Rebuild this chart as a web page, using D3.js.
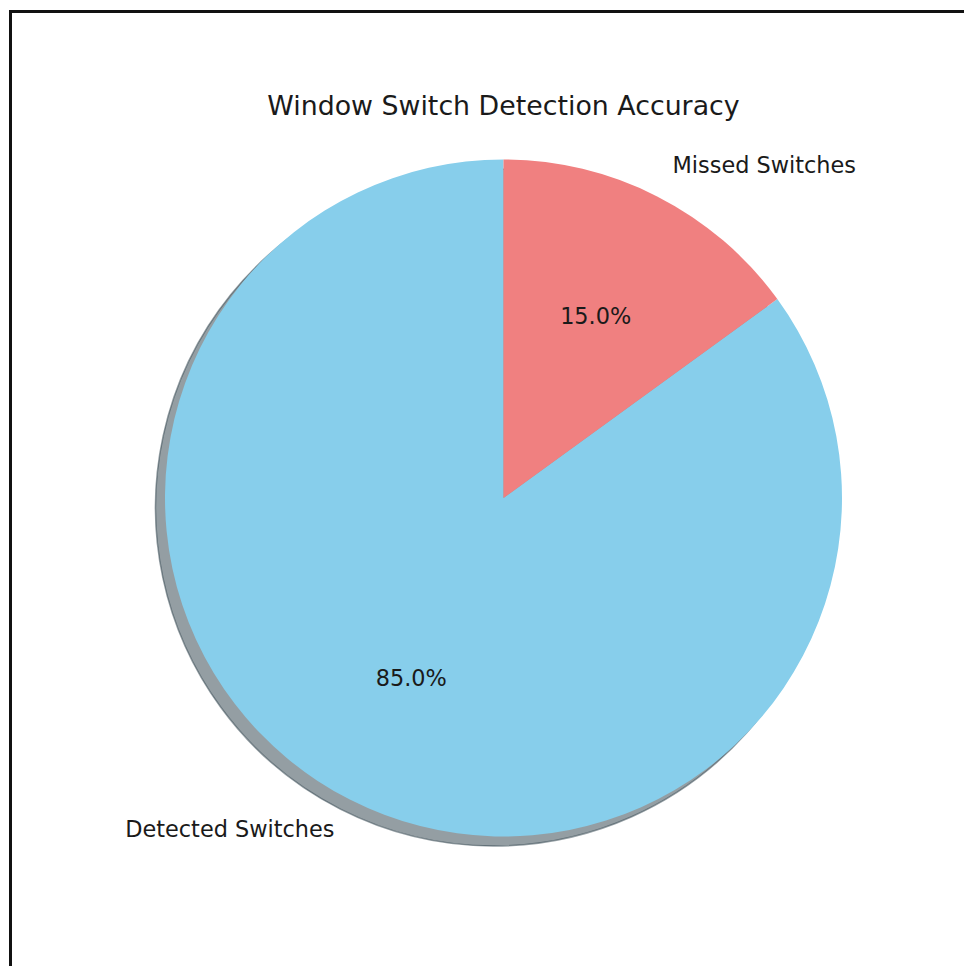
<!DOCTYPE html>
<html>
<head>
<meta charset="utf-8">
<script src="https://cdn.jsdelivr.net/npm/d3@7/dist/d3.min.js"></script>
<style>
  html, body { margin: 0; padding: 0; background: #ffffff; }
  svg { display: block; }
  text { font-family: "DejaVu Sans", sans-serif; fill: #1a1a1a; }
</style>
</head>
<body>
<svg id="chart" width="964" height="966"></svg>
<script>
// Slice names, shares (percent) and fill colours
const categories = ["Detected Switches", "Missed Switches"];
const shares = [85, 15];
const colors = ["#87CEEB", "#F08080"];
const title = "Window Switch Detection Accuracy";

const W = 964, H = 966;
const cx = 503.5, cy = 498, R = 338.5;
const shadowOffset = 9.5;

const svg = d3.select("#chart");

// frame around the figure
svg.append("rect")
  .attr("x", 10.5).attr("y", 11.5)
  .attr("width", 1200).attr("height", 1200)
  .attr("fill", "none")
  .attr("stroke", "#111")
  .attr("stroke-width", 3);

const data = categories.map((c, i) => ({ name: c, value: shares[i], color: colors[i] }));

// first slice starts at 12 o'clock and runs counter-clockwise
const pie = d3.pie().value(d => d.value).sort(null)
  .startAngle(0).endAngle(-2 * Math.PI);
const arcs = pie(data);
const arc = d3.arc().innerRadius(0).outerRadius(R);

// drop shadow for each wedge
const shade = d => { const c = d3.rgb(d.data.color); return d3.rgb(c.r * 0.3, c.g * 0.3, c.b * 0.3); };
const shadowG = svg.append("g")
  .attr("transform", `translate(${cx - shadowOffset},${cy + shadowOffset})`);
shadowG.selectAll("path").data(arcs).join("path")
  .attr("d", arc)
  .attr("fill", shade)
  .attr("fill-opacity", 0.5)
  .attr("stroke", shade)
  .attr("stroke-opacity", 0.5)
  .attr("stroke-width", 1.5);

const pieG = svg.append("g").attr("transform", `translate(${cx},${cy})`);
pieG.selectAll("path.wedge").data(arcs).join("path")
  .attr("class", "wedge")
  .attr("d", arc)
  .attr("fill", d => d.data.color);

const mid = d => (d.startAngle + d.endAngle) / 2;

// percentage labels inside the wedges
pieG.selectAll("text.pct").data(arcs).join("text")
  .attr("class", "pct")
  .attr("x", d => 0.6 * R * Math.sin(mid(d)))
  .attr("y", d => -0.6 * R * Math.cos(mid(d)))
  .attr("dy", "0.31em")
  .attr("text-anchor", "middle")
  .style("font-size", "22.4px")
  .text(d => d.data.value.toFixed(1) + "%");

// category labels outside the rim
pieG.selectAll("text.lbl").data(arcs).join("text")
  .attr("class", "lbl")
  .attr("x", d => 1.1 * R * Math.sin(mid(d)))
  .attr("y", d => -1.1 * R * Math.cos(mid(d)))
  .attr("dy", "0.31em")
  .attr("text-anchor", d => Math.sin(mid(d)) < 0 ? "end" : "start")
  .style("font-size", "22.4px")
  .text(d => d.data.name);

svg.append("text")
  .attr("x", cx).attr("y", 115)
  .attr("text-anchor", "middle")
  .style("font-size", "26.8px")
  .text(title);
</script>
</body>
</html>
